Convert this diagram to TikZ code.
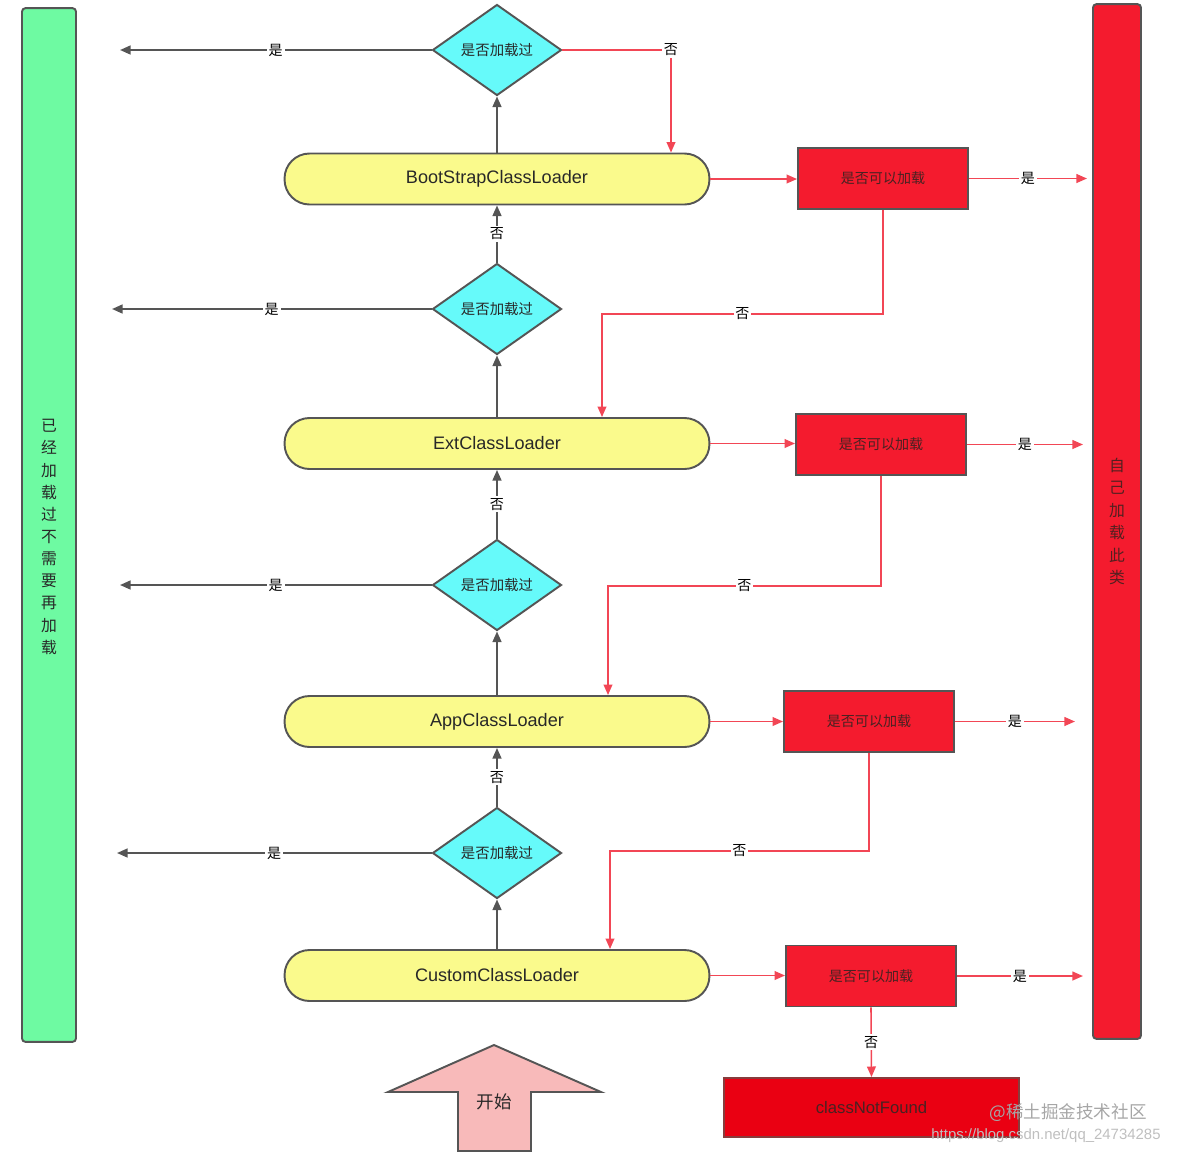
\documentclass[tikz,border=0pt]{standalone}
\usepackage{fontspec}
\setmainfont{Liberation Sans}
\newfontfamily\cjk{Noto Sans CJK SC}
\usetikzlibrary{shapes.geometric,arrows.meta,calc}
\definecolor{gbarfill}{RGB}{110,250,162}
\definecolor{rbarfill}{RGB}{244,27,46}
\definecolor{cyanfill}{RGB}{102,250,250}
\definecolor{pillfill}{RGB}{250,250,140}
\definecolor{cnffill}{RGB}{234,0,18}
\definecolor{pinkfill}{RGB}{248,186,186}
\definecolor{edgegray}{RGB}{85,85,85}
\definecolor{redline}{RGB}{242,70,85}
\definecolor{darktext}{RGB}{40,40,40}
\begin{document}
\begin{tikzpicture}[x=0.02cm,y=-0.02cm,
  bord/.style={draw=edgegray,line width=1.1pt},
  greenbar/.style={bord,fill=gbarfill,rounded corners=2pt,minimum width=1.08cm,minimum height=20.68cm,inner sep=0pt},
  gtext/.style={align=center,inner sep=0pt,font=\cjk\fontsize{9}{12.6}\selectfont,text=darktext},
  redbar/.style={bord,fill=rbarfill,rounded corners=2pt,minimum width=0.96cm,minimum height=20.7cm,inner sep=0pt,align=center,font=\cjk\fontsize{9}{12.8}\selectfont,text=darktext!80!red},
  decide/.style={bord,shape=diamond,fill=cyanfill,minimum width=2.58cm,minimum height=1.82cm,aspect=1.42,inner sep=0pt,font=\cjk\fontsize{8.2}{10}\selectfont,text=darktext},
  pill/.style={bord,fill=pillfill,rounded corners=0.5cm,minimum width=8.5cm,minimum height=1.02cm,inner sep=0pt,font=\fontsize{10.3}{12}\selectfont,text=darktext},
  canload/.style={bord,fill=rbarfill,minimum width=3.4cm,minimum height=1.22cm,inner sep=0pt,font=\cjk\fontsize{8}{10}\selectfont,text=darktext!85!red},
  notfound/.style={draw=edgegray!70!red,line width=1.1pt,fill=cnffill,minimum width=5.9cm,minimum height=1.18cm,inner sep=0pt,font=\fontsize{9.5}{11}\selectfont,text=darktext!85!red},
  darkarrow/.style={draw=edgegray,line width=1.1pt,-{Triangle[length=6pt,width=5pt]}},
  redarrow/.style={draw=redline,line width=0.9pt,-{Triangle[length=6pt,width=5pt]}},
  lab/.style={fill=white,inner sep=1pt,font=\cjk\fontsize{8}{9}\selectfont,text=black}
]
\useasboundingbox (0,0) rectangle (1178,1154);

% side bars
\node[greenbar] (gbar) at (49,525) {};
\node[gtext] (gbartext) at (49,537) {已\\经\\加\\载\\过\\不\\需\\要\\再\\加\\载};
\node[redbar] (rbar) at (1117,521.5) {自\\己\\加\\载\\此\\类};

% diamonds
\node[decide] (d1) at (497,50) {是否加载过};
\node[decide] (d2) at (497,309) {是否加载过};
\node[decide] (d3) at (497,585) {是否加载过};
\node[decide] (d4) at (497,853) {是否加载过};

% pills
\node[pill] (p1) at (497,179) {BootStrapClassLoader};
\node[pill] (p2) at (497,443.5) {ExtClassLoader};
\node[pill] (p3) at (497,721.5) {AppClassLoader};
\node[pill] (p4) at (497,975.5) {CustomClassLoader};

% can-load boxes
\node[canload] (r1) at (883,178.5) {是否可以加载};
\node[canload] (r2) at (881,444.5) {是否可以加载};
\node[canload] (r3) at (869,721.5) {是否可以加载};
\node[canload] (r4) at (871,976) {是否可以加载};
\node[notfound] (cnf) at (871.5,1107.5) {classNotFound};

% start arrow
\draw[bord,fill=pinkfill] (494,1045) -- (601,1092) -- (531,1092) -- (531,1151) -- (458,1151) -- (458,1092) -- (388,1092) -- cycle;
\node[font=\cjk\fontsize{10}{12}\selectfont,text=darktext] (start) at (494,1102) {开始};

% coordinates
\coordinate (e1) at (120,50);
\coordinate (e2) at (112,309);
\coordinate (e3) at (120,585);
\coordinate (e4) at (117,853);
\coordinate (n1) at (671,50);
\coordinate (c2) at (602,314);
\coordinate (c3) at (608,586);
\coordinate (c4) at (610,851);
\coordinate (y1) at (1087,178.5);
\coordinate (y2) at (1083,444.5);
\coordinate (y3) at (1075,721.5);
\coordinate (y4) at (1083,976);

% "yes, already loaded" arrows
\draw[darkarrow] (d1.west) -- node[lab]{是} (e1);
\draw[darkarrow] (d2.west) -- node[lab]{是} (e2);
\draw[darkarrow] (d3.west) -- node[lab]{是} (e3);
\draw[darkarrow] (d4.west) -- node[lab]{是} (e4);

% upward chain
\draw[darkarrow] (p4.north) -- (d4.south);
\draw[darkarrow] (d4.north) -- node[lab]{否} (p3.south);
\draw[darkarrow] (p3.north) -- (d3.south);
\draw[darkarrow] (d3.north) -- node[lab]{否} (p2.south);
\draw[darkarrow] (p2.north) -- (d2.south);
\draw[darkarrow] (d2.north) -- node[lab]{否} (p1.south);
\draw[darkarrow] (p1.north) -- (d1.south);

% top "no"
\draw[redarrow] (d1.east) -| node[lab,pos=0.5]{否} (p1.north -| n1);

% pill -> can load
\draw[redarrow] (p1.east) -- (p1.east -| r1.west);
\draw[redarrow] (p2.east) -- (p2.east -| r2.west);
\draw[redarrow] (p3.east) -- (p3.east -| r3.west);
\draw[redarrow] (p4.east) -- (p4.east -| r4.west);

% can load -> self load
\draw[redarrow] (r1.east) -- node[lab]{是} (y1);
\draw[redarrow] (r2.east) -- node[lab]{是} (y2);
\draw[redarrow] (r3.east) -- node[lab]{是} (y3);
\draw[redarrow] (r4.east) -- node[lab]{是} (y4);

% can't load -> go down
\draw[redarrow] (r1.south) |- node[lab,pos=0.75]{否} (c2) -- (p2.north -| c2);
\draw[redarrow] (r2.south) |- node[lab,pos=0.75]{否} (c3) -- (p3.north -| c3);
\draw[redarrow] (r3.south) |- node[lab,pos=0.75]{否} (c4) -- (p4.north -| c4);
\draw[redarrow] (r4.south) -- node[lab]{否} (cnf.north);

% watermark
\node[font=\cjk\fontsize{10}{12}\selectfont,text=black!35] (wm1) at (1068,1113) {@稀土掘金技术社区};
\node[font=\fontsize{8.5}{10}\selectfont,text=black!25] (wm2) at (1046,1136) {https://blog.csdn.net/qq\_24734285};
\end{tikzpicture}
\end{document}
